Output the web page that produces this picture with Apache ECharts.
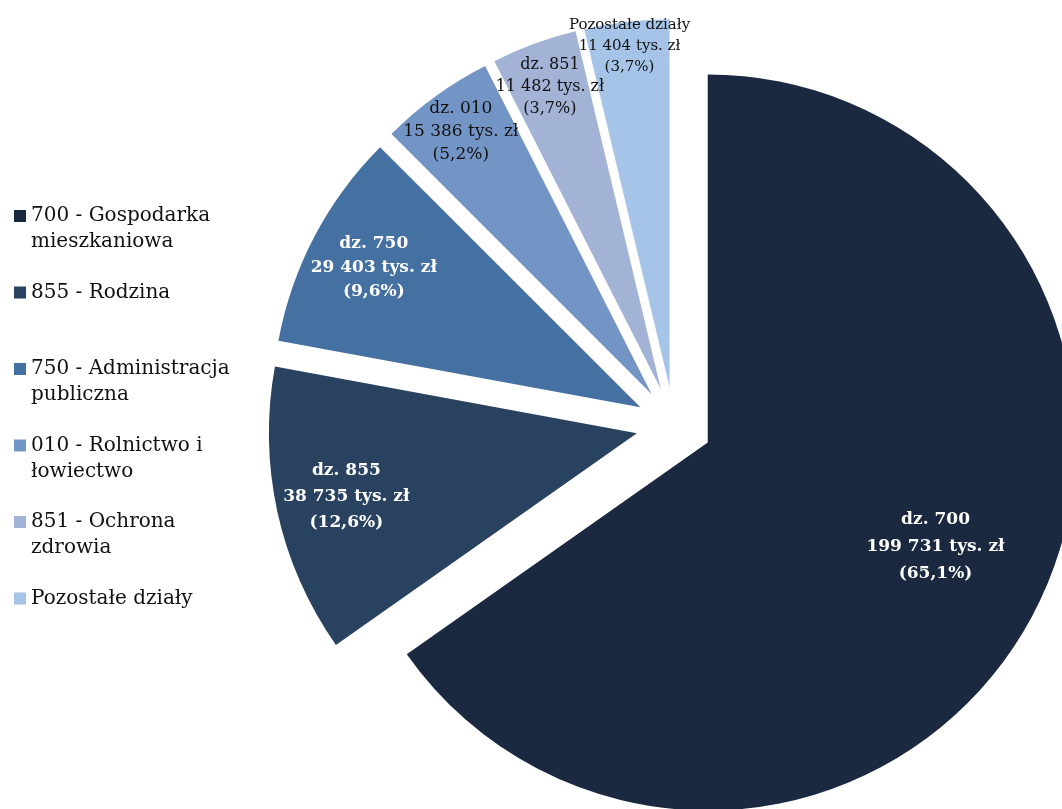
<!DOCTYPE html>
<html>
<head>
<meta charset="utf-8">
<script src="https://cdn.jsdelivr.net/npm/echarts@6/dist/echarts.min.js"></script>
<style>html,body{margin:0;padding:0;background:#fff}#c{width:1062px;height:809px}</style>
</head>
<body>
<div id="c"></div>
<script>
const categories = ['700 - Gospodarka mieszkaniowa', '855 - Rodzina', '750 - Administracja publiczna', '010 - Rolnictwo i łowiectwo', '851 - Ochrona zdrowia', 'Pozostałe działy'];
const legendLabels = [' \n700 - Gospodarka\nmieszkaniowa', ' \n855 - Rodzina\n ', ' \n750 - Administracja\npubliczna', ' \n010 - Rolnictwo i\nłowiectwo', ' \n851 - Ochrona\nzdrowia', ' \nPozostałe działy\n '];
const sliceLabels = ['dz. 700', 'dz. 855', 'dz. 750', 'dz. 010', 'dz. 851', 'Pozostałe działy'];
const values = [199731, 38735, 29403, 15386, 11482, 11404];
const percents = ['65,1', '12,6', '9,6', '5,2', '3,7', '3,7'];

const colors = ['#1a2940', '#284260', '#4470a2', '#7395c5', '#a2b3d5', '#a5c4e8'];
const labelStyles = [
  {color: '#fff', fontWeight: 'bold', fontSize: 17, lineHeight: 27},
  {color: '#fff', fontWeight: 'bold', fontSize: 17, lineHeight: 26},
  {color: '#fff', fontWeight: 'bold', fontSize: 17, lineHeight: 24},
  {color: '#111', fontWeight: 'normal', fontSize: 17, lineHeight: 23},
  {color: '#111', fontWeight: 'normal', fontSize: 16, lineHeight: 22},
  {color: '#111', fontWeight: 'normal', fontSize: 15, lineHeight: 21}
];
const labelRadiusFrac = [0.672, 0.80, 0.81, 0.875, 0.867, 0.924];
const labelAngleShiftDeg = [-3, 0, 0, 0, 0, 0];
const R = 368;

function fmt(v) { return String(v).replace(/\B(?=(\d{3})+(?!\d))/g, ' '); }

const total = values.reduce((a, b) => a + b, 0);
const midAngles = [];
let cum = 0;
values.forEach(v => { midAngles.push((cum + v / 2) / total * 2 * Math.PI); cum += v; });

const chart = echarts.init(document.getElementById('c'));
chart.setOption({
  animation: false,
  color: colors,
  legend: {
    orient: 'vertical',
    left: 9,
    top: 172,
    itemWidth: 12,
    itemHeight: 12,
    itemGap: -1.5,
    icon: 'rect',
    selectedMode: false,
    data: categories,
    formatter: name => legendLabels[categories.indexOf(name)],
    textStyle: {fontFamily: 'DejaVu Serif', fontSize: 20, lineHeight: 26, color: '#111'}
  },
  series: [{
    type: 'pie',
    center: [674, 425],
    radius: R,
    startAngle: 90,
    clockwise: true,
    selectedMode: 'multiple',
    selectedOffset: 38,
    avoidLabelOverlap: false,
    emphasis: {disabled: true},
    itemStyle: {borderWidth: 0},
    label: {
      show: true,
      position: 'inside',
      fontFamily: 'DejaVu Serif',
      align: 'center',
      formatter: p => sliceLabels[p.dataIndex] + '\n' + fmt(p.value) + ' tys. zł\n(' + percents[p.dataIndex] + '%)'
    },
    labelLine: {show: false},
    labelLayout: params => {
      const i = params.dataIndex;
      const a = midAngles[i];
      const a2 = a + labelAngleShiftDeg[i] * Math.PI / 180;
      const half = 0.5 * R, want = labelRadiusFrac[i] * R;
      return {
        dx: want * Math.sin(a2) - half * Math.sin(a),
        dy: -want * Math.cos(a2) + half * Math.cos(a)
      };
    },
    data: categories.map((name, i) => ({
      name: name,
      value: values[i],
      selected: true,
      label: labelStyles[i]
    }))
  }]
});
</script>
</body>
</html>
